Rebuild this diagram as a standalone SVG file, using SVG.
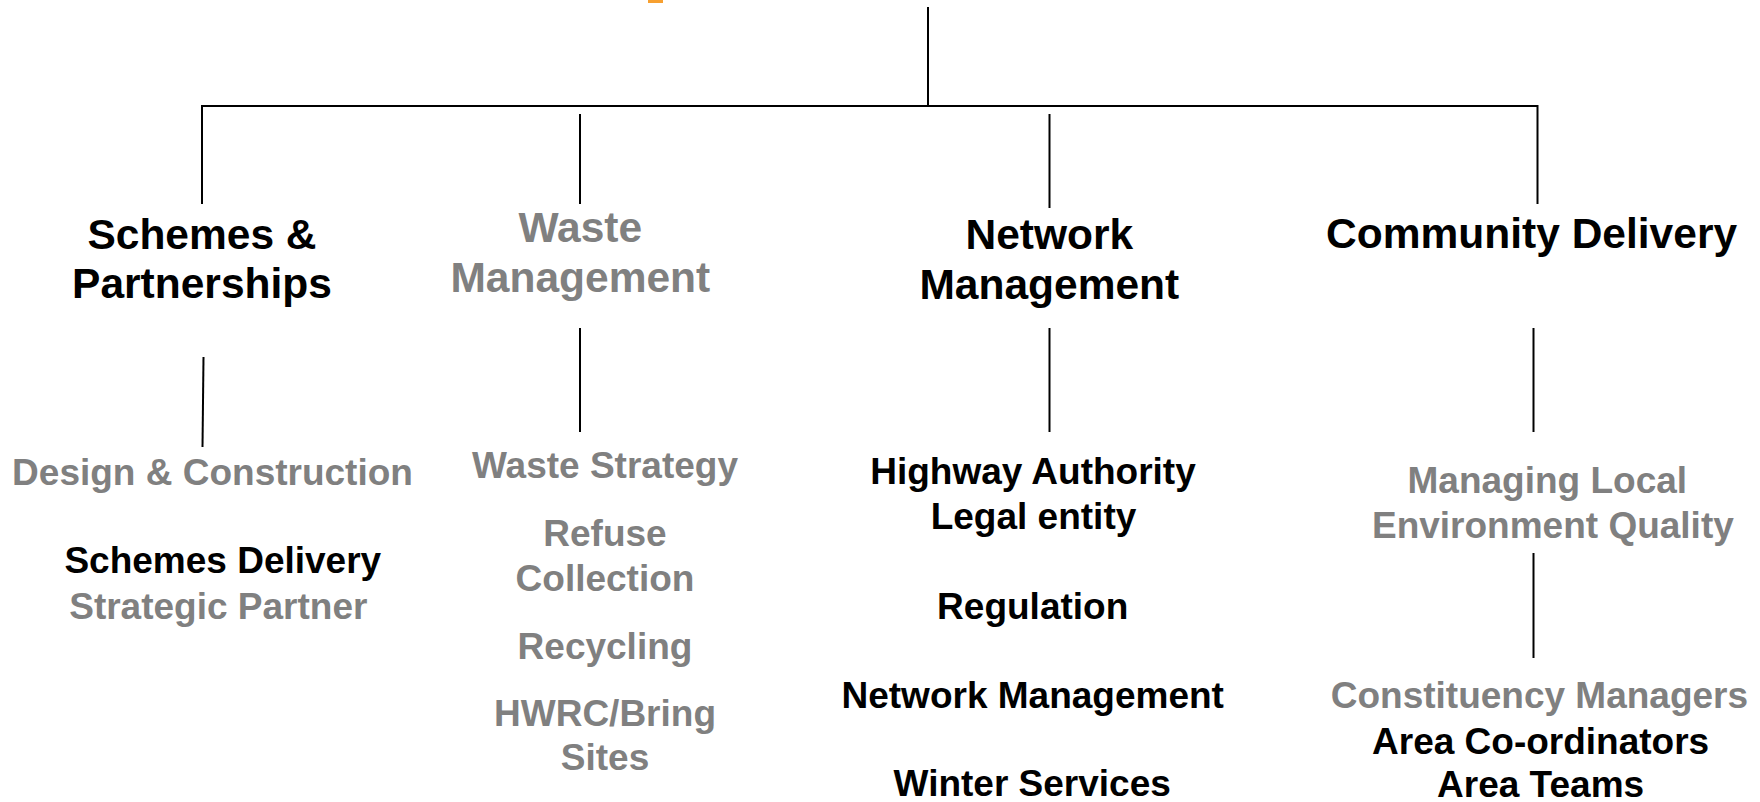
<svg xmlns="http://www.w3.org/2000/svg" width="1760" height="802" viewBox="0 0 1760 802">
<style>
  text { font-family: "Liberation Sans", Arial, sans-serif; font-weight: bold; text-anchor: middle; }
  .h { font-size: 42.5px; }
  .s { font-size: 37px; }
  .k { fill: #000000; }
  .g { fill: #808080; }
  .ln { stroke: #000000; stroke-width: 2; fill: none; }
</style>
<rect width="1760" height="802" fill="#ffffff"/>
<rect x="648" y="0" width="15" height="3" fill="#F7A030"/>
<g id="connectors">
  <line class="ln" x1="928" y1="7" x2="928" y2="106"/>
  <line class="ln" x1="202" y1="106" x2="1538" y2="106"/>
  <line class="ln" x1="202" y1="105" x2="202" y2="204"/>
  <line class="ln" x1="580" y1="114" x2="580" y2="204"/>
  <line class="ln" x1="1049.5" y1="114" x2="1049.5" y2="208"/>
  <line class="ln" x1="1537.5" y1="105" x2="1537.5" y2="204"/>
  <line class="ln" x1="203.5" y1="357" x2="202.5" y2="447"/>
  <line class="ln" x1="580" y1="328" x2="580" y2="432"/>
  <line class="ln" x1="1049.5" y1="328" x2="1049.5" y2="432"/>
  <line class="ln" x1="1533.5" y1="328" x2="1533.5" y2="432"/>
  <line class="ln" x1="1533.5" y1="553" x2="1533.5" y2="658"/>
</g>
<g id="schemes-partnerships">
  <text class="h k" x="202" y="248.6">Schemes &amp;</text>
  <text class="h k" x="202" y="298">Partnerships</text>
</g>
<g id="waste-management">
  <text class="h g" x="580.3" y="242">Waste</text>
  <text class="h g" x="580.3" y="292.4">Management</text>
</g>
<g id="network-management">
  <text class="h k" x="1049.3" y="248.6">Network</text>
  <text class="h k" x="1049.3" y="299">Management</text>
</g>
<g id="community-delivery">
  <text class="h k" x="1531.6" y="247.5">Community Delivery</text>
</g>
<g id="design-construction">
  <text class="s g" x="212.5" y="484.7">Design &amp; Construction</text>
  <text class="s k" x="222.8" y="573.3">Schemes Delivery</text>
  <text class="s g" x="218.3" y="619.4">Strategic Partner</text>
</g>
<g id="waste-strategy">
  <text class="s g" x="605" y="478">Waste Strategy</text>
  <text class="s g" x="605" y="546.4">Refuse</text>
  <text class="s g" x="605" y="591.3">Collection</text>
  <text class="s g" x="605" y="658.6">Recycling</text>
  <text class="s g" x="605" y="726">HWRC/Bring</text>
  <text class="s g" x="605" y="769.8">Sites</text>
</g>
<g id="highway-authority">
  <text class="s k" x="1033" y="484">Highway Authority</text>
  <text class="s k" x="1033.5" y="528.5">Legal entity</text>
  <text class="s k" x="1032.7" y="618.5">Regulation</text>
  <text class="s k" x="1032.7" y="708">Network Management</text>
  <text class="s k" x="1032.2" y="796">Winter Services</text>
</g>
<g id="managing-local">
  <text class="s g" x="1547.3" y="493">Managing Local</text>
  <text class="s g" x="1552.9" y="537.5">Environment Quality</text>
</g>
<g id="constituency-managers">
  <text class="s g" x="1539.4" y="708">Constituency Managers</text>
  <text class="s k" x="1540.6" y="754">Area Co-ordinators</text>
  <text class="s k" x="1540.6" y="797">Area Teams</text>
</g>
</svg>
